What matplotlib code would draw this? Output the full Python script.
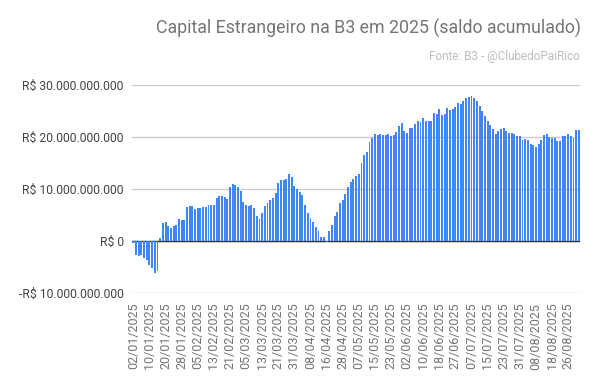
import numpy as np
import pandas as pd
import matplotlib
matplotlib.use('Agg')
import matplotlib.pyplot as plt
from matplotlib.ticker import FuncFormatter

plt.rcParams['font.family'] = ['Roboto', 'DejaVu Sans']

# B3 trading days 2025 (market holidays removed)
holidays = ['2025-01-01', '2025-03-03', '2025-03-04', '2025-04-18',
            '2025-04-21', '2025-05-01', '2025-06-19']
dates = pd.bdate_range('2025-01-02', '2025-09-01', freq='C', holidays=holidays)

# accumulated balance, R$ billions
saldo_bi = [
    -0.4, -2.6, -2.9, -2.6, -3.3, -3.7, -4.7, -5.1, -6.2, -5.8,
    0.6, 3.5, 3.7, 2.9, 2.5, 2.9, 3.1, 4.2, 4.0, 4.0,
    6.6, 6.8, 6.8, 6.2, 6.4, 6.4, 6.6, 6.6, 7.0, 7.0,
    7.0, 8.3, 8.7, 8.7, 8.5, 8.1, 10.3, 11.0, 10.8, 10.4,
    9.7, 7.6, 7.0, 6.8, 7.0, 6.4, 4.9, 4.3, 5.3, 6.8,
    7.4, 7.8, 8.3, 9.3, 11.2, 11.8, 11.8, 12.0, 12.8, 12.4,
    10.6, 10.1, 9.5, 8.9, 7.0, 5.3, 4.5, 3.7, 2.6, 2.0,
    0.8, 0.8, -0.2, 2.0, 3.1, 4.9, 5.6, 7.4, 7.9, 9.1,
    10.4, 11.4, 12.0, 12.6, 12.8, 15.1, 16.6, 17.2, 19.1, 19.9,
    20.6, 20.4, 20.6, 20.4, 20.4, 20.6, 20.3, 20.4, 21.0, 22.2,
    22.8, 21.2, 20.8, 21.8, 21.8, 22.6, 23.1, 22.9, 23.7, 23.1,
    23.1, 23.1, 24.7, 24.5, 25.4, 24.3, 24.5, 25.6, 25.3, 25.4,
    25.8, 26.6, 26.4, 27.0, 27.6, 27.8, 27.9, 27.6, 27.0, 26.0,
    25.1, 24.1, 23.1, 22.4, 21.6, 20.6, 21.2, 21.6, 21.8, 21.2,
    20.8, 20.8, 20.6, 20.3, 20.3, 19.5, 19.7, 19.5, 18.7, 18.5,
    18.1, 18.7, 19.5, 20.4, 20.6, 20.1, 19.9, 19.9, 19.3, 19.3,
    20.3, 20.3, 20.6, 20.3, 19.9, 21.4, 21.4,
]
yticks_bi = [-10, 0, 10, 20, 30]

n = min(len(dates), len(saldo_bi))
dates = dates[:n]
values = np.array(saldo_bi[:n]) * 1e9
x = np.arange(n)

fig = plt.figure(figsize=(6, 3.85), dpi=100)
ax = fig.add_axes([0.22, 0.239, 0.747, 0.54])

ax.bar(x, values, width=0.72, color='#4285f4', zorder=3)

ax.set_xlim(-0.5, n - 0.5)
ax.set_ylim(-10e9, 30e9)
ax.set_yticks([v * 1e9 for v in yticks_bi])


def fmt_brl(v, pos):
    v = int(round(v))
    if v == 0:
        return 'R$ 0'
    s = f'{abs(v):,}'.replace(',', '.')
    return ('-R$ ' if v < 0 else 'R$ ') + s


ax.yaxis.set_major_formatter(FuncFormatter(fmt_brl))
ax.grid(axis='y', color='#cccccc', linewidth=1, zorder=0)
ax.axhline(0, color='#333333', linewidth=1, zorder=2)

tick_pos = x[::6]
ax.set_xticks(tick_pos)
ax.set_xticklabels([d.strftime('%d/%m/%Y') for d in dates[::6]],
                   rotation=90, fontsize=9, color='#757575')
ax.tick_params(axis='x', length=0, pad=7)
ax.tick_params(axis='y', length=0, pad=6, labelsize=8.7, labelcolor='#444444')

for s in ax.spines.values():
    s.set_visible(False)

fig.text(0.968, 0.925, 'Capital Estrangeiro na B3 em 2025 (saldo acumulado)',
         ha='right', va='center', fontsize=12.8, color='#757575')
fig.text(0.967, 0.853, 'Fonte: B3 - @ClubedoPaiRico',
         ha='right', va='center', fontsize=8.5, color='#bdbdbd')

fig.savefig('out.png', dpi=100, facecolor='white')
